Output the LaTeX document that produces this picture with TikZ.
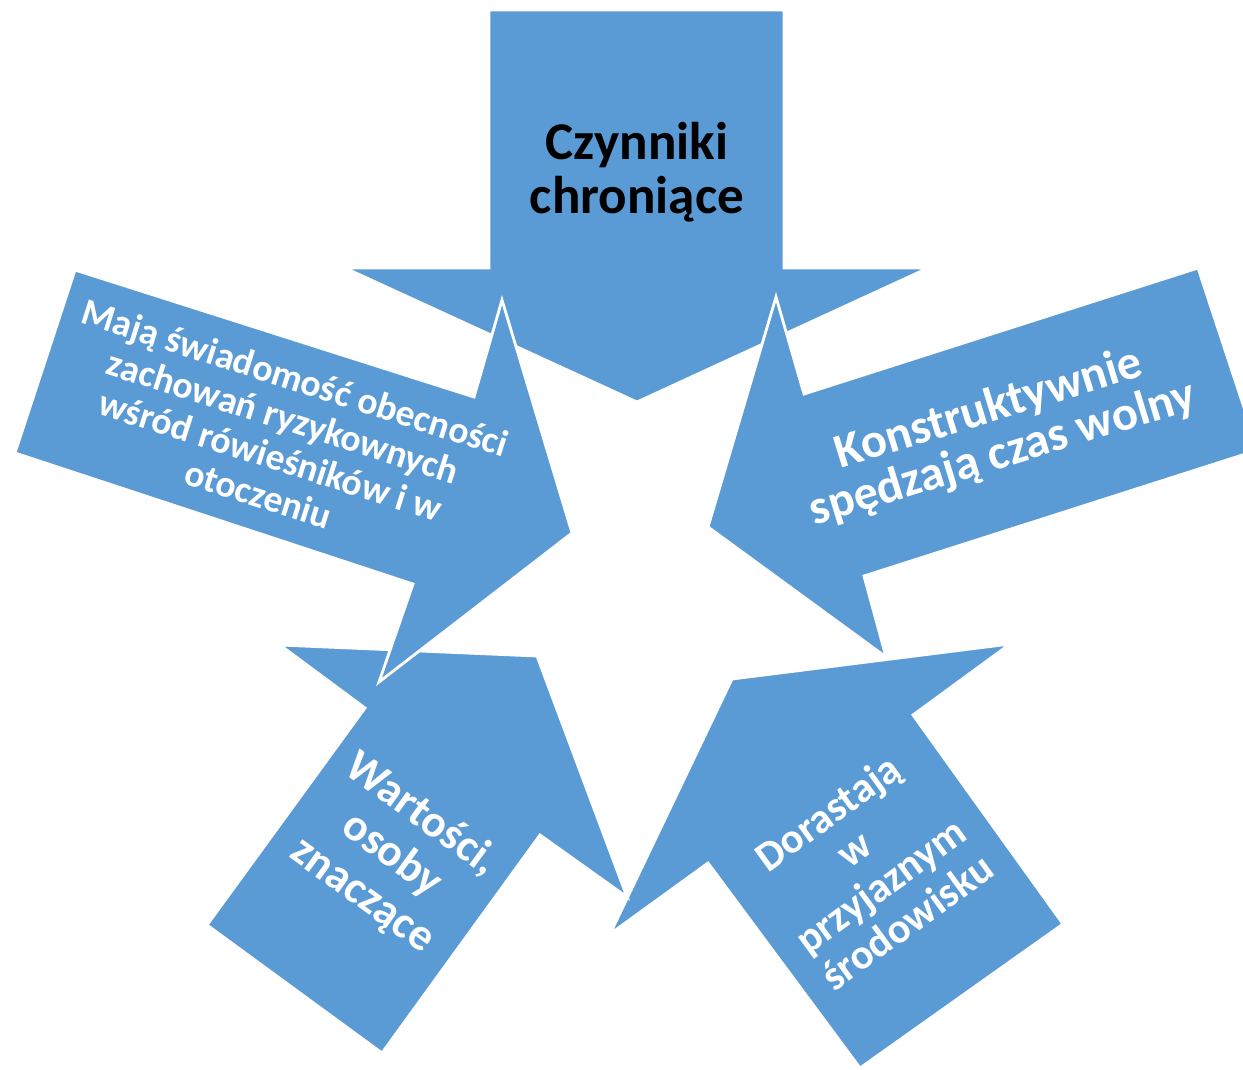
\documentclass[tikz,border=0pt]{standalone}
\usepackage{fontspec}
\setmainfont{Carlito}
\definecolor{arrowblue}{HTML}{5B9BD5}

\begin{document}
\begin{tikzpicture}[x=0.01cm, y=-0.01cm,
    pinarrow/.style={fill=arrowblue, draw=white, line width=0.8pt},
    armtext/.style={align=center, text=white, inner sep=0pt}]
    \useasboundingbox (0,0) rectangle (1243,1069);
    \clip (0,0) rectangle (1243,1069);
    % arrows, drawn so the overlaps come out right
    \filldraw [pinarrow] (489,10) -- (784,10) -- (784,268) -- (928,268) -- (637,402) -- (345,268) -- (489,268) -- cycle;
    \filldraw [pinarrow] (732,679) -- (1010,644) -- (913,715) -- (1063,924) -- (860,1068) -- (708,863) -- (610,934) -- cycle;
    \filldraw [pinarrow] (537,656) -- (627,897) -- (540,835) -- (382,1053) -- (207,925) -- (365,708) -- (280,645) -- cycle;
    \filldraw [pinarrow] (572,533) -- (379,682) -- (413,584) -- (15,453) -- (75,270) -- (474,397) -- (502,300) -- cycle;
    \filldraw [pinarrow] (708,527) -- (776,297) -- (804,394) -- (1198,268) -- (1258,450) -- (864,576) -- (886,657) -- cycle;
    % texts
    \node [armtext, text=black, font=\fontsize{15.1}{15.2}\selectfont\bfseries] (chron) at (637,172) {Czynniki\\chroniące};
    \node [armtext, rotate=-17.6, font=\fontsize{10.7}{11.6}\selectfont\bfseries] (swiad) at (277,436) {Mają świadomość obecności\\zachowań ryzykownych\\wśród rówieśników i w\\otoczeniu};
    \node [armtext, rotate=17, font=\fontsize{13.8}{13.4}\selectfont\bfseries] (wolny) at (996,432) {Konstruktywnie\\spędzają czas wolny};
    \node [armtext, rotate=-36, font=\fontsize{12.9}{14.2}\selectfont\bfseries] (wart) at (392,855) {Wartości,\\osoby\\znaczące};
    \node [armtext, rotate=36, font=\fontsize{12}{12.8}\selectfont\bfseries] (dorast) at (867,867) {Dorastają\\w\\przyjaznym\\środowisku};
\end{tikzpicture}
\end{document}
